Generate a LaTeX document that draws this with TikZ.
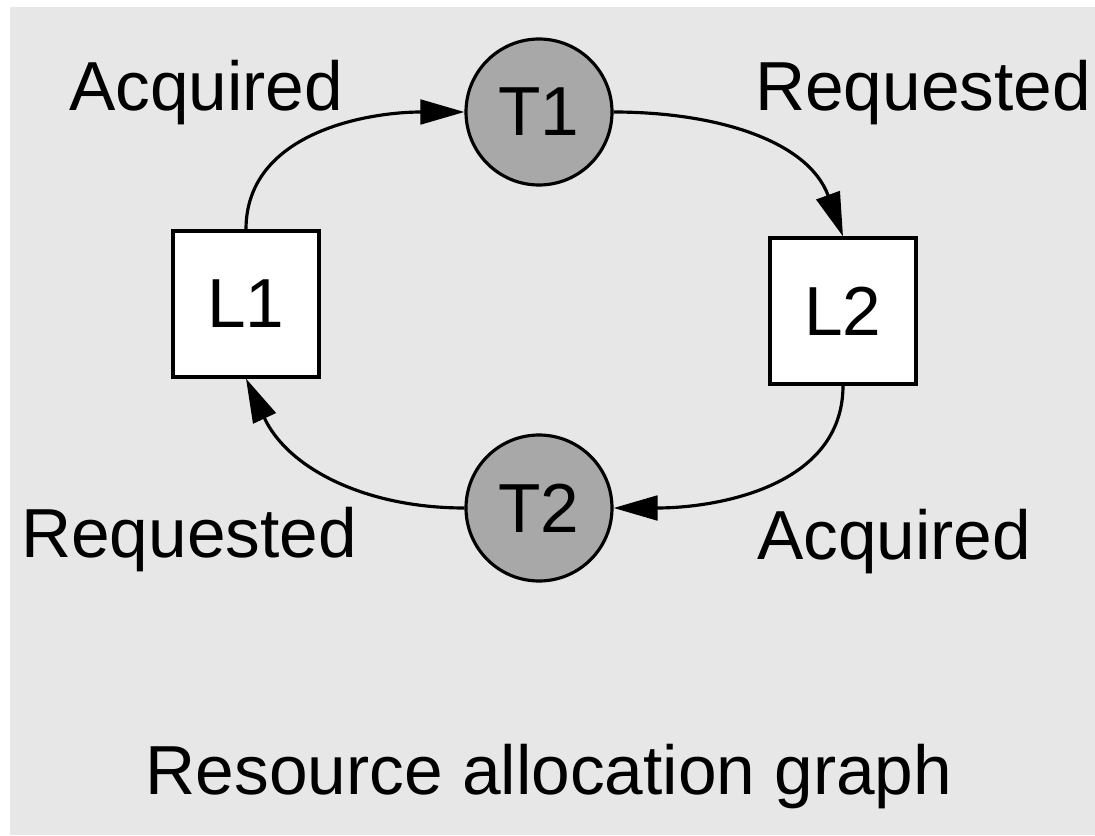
\documentclass[tikz,border=0pt]{standalone}
\usepackage{fontspec}
\setmainfont{Liberation Sans}
\usetikzlibrary{shapes, arrows.meta}

\definecolor{panel}{HTML}{E7E7E7}
\definecolor{thread}{HTML}{A8A8A8}

\begin{document}
\begin{tikzpicture}[
    every node/.style={font=\fontsize{39.5}{47}\selectfont},
    thr/.style={draw, circle, fill=thread, line width=1.8pt, minimum size=2.92cm, inner sep=0pt},
    lck/.style={draw, rectangle, fill=white, line width=1.8pt, minimum size=2.92cm, inner sep=0pt},
    edge/.style={line width=1.8pt, -{Triangle[length=25pt,width=14pt]}}
]
\useasboundingbox (0,0) rectangle (21.9,16.7);
\fill[panel] (0.2,0) rectangle (21.9,16.56);

\node[thr] (t1) at (10.78,14.46) {T1};
\node[thr] (t2) at (10.78,6.54) {T2};
\node[lck] (l1) at (4.92,10.62) {L1};
\node[lck] (l2) at (16.86,10.48) {L2};

\node (acq1) at (4.12,14.84) {Acquired};
\node (req1) at (18.46,14.84) {Requested};
\node (req2) at (3.78,5.9) {Requested};
\node (acq2) at (17.88,5.86) {Acquired};
\node (title) at (10.98,1.16) {Resource allocation graph};

\draw[edge] (l1.north) to[out=90, in=180] (t1.west);
\draw[edge] (t1.east) to[out=0, in=110] (l2.north);
\draw[edge] (l2.south) to[out=-90, in=0] (t2.east);
\draw[edge] (t2.west) to[out=180, in=-65] (l1.south);
\end{tikzpicture}
\end{document}
